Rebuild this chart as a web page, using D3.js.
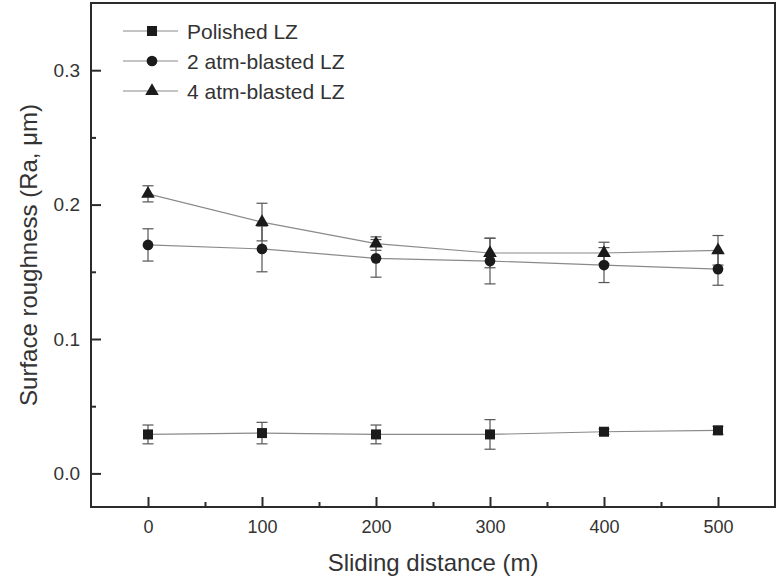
<!DOCTYPE html>
<html>
<head>
<meta charset="utf-8">
<script src="https://cdn.jsdelivr.net/npm/d3@7"></script>
<style>
  body { margin: 0; background: #fff; }
  text { font-family: Arial, "Liberation Sans", sans-serif; fill: #333; }
</style>
</head>
<body>
<div id="plot"></div>
<script>
// sliding distance (m)
var distance = [0, 100, 200, 300, 400, 500];

// surface roughness Ra (um) and error bars
var polished    = [0.029, 0.030, 0.029, 0.029, 0.031, 0.032];
var polishedErr = [0.007, 0.008, 0.007, 0.011, 0.002, 0.003];
var atm2        = [0.170, 0.167, 0.160, 0.158, 0.155, 0.152];
var atm2Err     = [0.012, 0.017, 0.014, 0.017, 0.013, 0.012];
var atm4        = [0.208, 0.187, 0.171, 0.164, 0.164, 0.166];
var atm4Err     = [0.006, 0.014, 0.005, 0.011, 0.008, 0.011];

var seriesNames = ["Polished LZ", "2 atm-blasted LZ", "4 atm-blasted LZ"];
var xTicks = [0, 100, 200, 300, 400, 500];
var xMinor = [50, 150, 250, 350, 450];
var yTicks = [0.0, 0.1, 0.2, 0.3];
var yMinor = [0.05, 0.15, 0.25];

var series = [
  { name: seriesNames[0], vals: polished, err: polishedErr, sym: d3.symbolSquare, size: 100 },
  { name: seriesNames[1], vals: atm2, err: atm2Err, sym: d3.symbolCircle, size: 90 },
  { name: seriesNames[2], vals: atm4, err: atm4Err, sym: d3.symbolTriangle, size: 80 }
];

var svg = d3.select("#plot").append("svg")
    .attr("width", 780)
    .attr("height", 580);

var pLeft = 91, pRight = 775, pTop = 3, pBottom = 507;

var x = d3.scaleLinear().domain([-50, 550]).range([pLeft, pRight]);
var y = d3.scaleLinear().domain([-0.025, 0.35]).range([pBottom, pTop]);

var lineCol = "#8a8a8a", markCol = "#1b1b1b", axisCol = "#2b2b2b";

// axes with inward ticks
var xAxis = svg.append("g")
    .attr("transform", "translate(0," + pBottom + ")")
    .call(d3.axisBottom(x).tickValues(xTicks).tickSizeInner(-10).tickSizeOuter(0).tickPadding(13).tickFormat(d3.format("d")));
xAxis.select(".domain").remove();
xAxis.selectAll("line").attr("stroke", axisCol).attr("stroke-width", 2);
xAxis.selectAll("text").attr("font-size", 18).attr("fill", "#333");

svg.append("g")
    .attr("transform", "translate(0," + pBottom + ")")
    .call(d3.axisBottom(x).tickValues(xMinor).tickSizeInner(-5).tickSizeOuter(0).tickFormat(""))
    .call(function(g) {
      g.select(".domain").remove();
      g.selectAll("line").attr("stroke", axisCol).attr("stroke-width", 2);
    });

var yAxis = svg.append("g")
    .attr("transform", "translate(" + pLeft + ",0)")
    .call(d3.axisLeft(y).tickValues(yTicks).tickSizeInner(-10).tickSizeOuter(0).tickPadding(11).tickFormat(d3.format(".1f")));
yAxis.select(".domain").remove();
yAxis.selectAll("line").attr("stroke", axisCol).attr("stroke-width", 2);
yAxis.selectAll("text").attr("font-size", 19).attr("fill", "#333");

svg.append("g")
    .attr("transform", "translate(" + pLeft + ",0)")
    .call(d3.axisLeft(y).tickValues(yMinor).tickSizeInner(-5).tickSizeOuter(0).tickFormat(""))
    .call(function(g) {
      g.select(".domain").remove();
      g.selectAll("line").attr("stroke", axisCol).attr("stroke-width", 2);
    });

// frame
svg.append("rect")
    .attr("x", pLeft).attr("y", pTop)
    .attr("width", pRight - pLeft).attr("height", pBottom - pTop)
    .attr("fill", "none")
    .attr("stroke", axisCol)
    .attr("stroke-width", 2);

// axis titles
svg.append("text")
    .attr("x", (pLeft + pRight) / 2)
    .attr("y", 571)
    .attr("text-anchor", "middle")
    .attr("font-size", 24)
    .text("Sliding distance (m)");

svg.append("text")
    .attr("transform", "translate(28," + ((pTop + pBottom) / 2) + ") rotate(-90)")
    .attr("text-anchor", "middle")
    .attr("dominant-baseline", "central")
    .attr("font-size", 24)
    .text("Surface roughness (Ra, \u03bcm)");

var line = d3.line()
    .x(function(d, i) { return x(distance[i]); })
    .y(function(d) { return y(d); });

// connecting lines
series.forEach(function(s) {
  svg.append("path")
      .datum(s.vals)
      .attr("fill", "none")
      .attr("stroke", lineCol)
      .attr("stroke-width", 1.2)
      .attr("d", line);
});

// error bars
series.forEach(function(s) {
  var g = svg.append("g").attr("stroke", "#555").attr("stroke-width", 1.2);
  s.vals.forEach(function(v, i) {
    var cx = x(distance[i]);
    var y1 = y(v + s.err[i]), y2 = y(v - s.err[i]);
    g.append("line").attr("x1", cx).attr("x2", cx).attr("y1", y1).attr("y2", y2);
    g.append("line").attr("x1", cx - 5.5).attr("x2", cx + 5.5).attr("y1", y1).attr("y2", y1);
    g.append("line").attr("x1", cx - 5.5).attr("x2", cx + 5.5).attr("y1", y2).attr("y2", y2);
  });
});

// markers
series.forEach(function(s) {
  svg.selectAll(null)
      .data(s.vals)
      .enter().append("path")
      .attr("transform", function(d, i) { return "translate(" + x(distance[i]) + "," + y(d) + ")"; })
      .attr("d", d3.symbol().type(s.sym).size(s.size))
      .attr("fill", markCol);
});

// legend
var legend = svg.append("g");
series.forEach(function(s, i) {
  var ly = 31 + i * 30;
  legend.append("line")
      .attr("x1", 123).attr("x2", 178)
      .attr("y1", ly).attr("y2", ly)
      .attr("stroke", lineCol).attr("stroke-width", 1.2);
  legend.append("path")
      .attr("transform", "translate(152," + ly + ")")
      .attr("d", d3.symbol().type(s.sym).size(s.size))
      .attr("fill", markCol);
  legend.append("text")
      .attr("x", 187)
      .attr("y", ly)
      .attr("dominant-baseline", "central")
      .attr("font-size", 21)
      .text(s.name);
});
</script>
</body>
</html>
